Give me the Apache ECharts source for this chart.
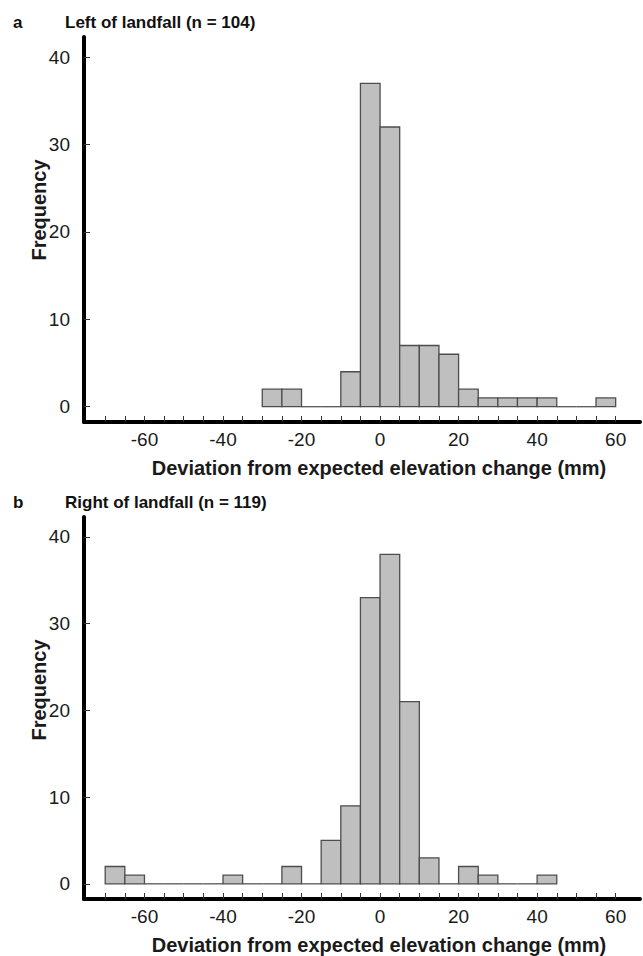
<!DOCTYPE html>
<html>
<head>
<meta charset="utf-8">
<script src="https://cdn.jsdelivr.net/npm/echarts@6/dist/echarts.min.js"></script>
<style>
html,body{margin:0;padding:0;background:#fff;}
#chart{width:643px;height:956px;}
</style>
</head>
<body>
<div id="chart"></div>
<script>
// Histogram bin edges (mm) and counts
var binEdgesA = [-30,-25,-20,-15,-10,-5,0,5,10,15,20,25,30,35,40,45,50,55,60];
var countsA   = [2,2,0,0,4,37,32,7,7,6,2,1,1,1,1,0,0,1];
var binEdgesB = [-70,-65,-60,-55,-50,-45,-40,-35,-30,-25,-20,-15,-10,-5,0,5,10,15,20,25,30,35,40,45];
var countsB   = [2,1,0,0,0,0,1,0,0,2,0,5,9,33,38,21,3,0,2,1,0,0,1];

var xTickValues  = [-70,-65,-60,-55,-50,-45,-40,-35,-30,-25,-20,-15,-10,-5,0,5,10,15,20,25,30,35,40,45,50,55,60];
var xLabelValues = [-60,-40,-20,0,20,40,60];
var yLabelValues = [0,10,20,30,40];

var titleA = 'Left of landfall (n = 104)';
var titleB = 'Right of landfall (n = 119)';
var xName = 'Deviation from expected elevation change (mm)';
var yName = 'Frequency';

function toData(edges, counts){
  var d = [];
  for (var i = 0; i < counts.length; i++) d.push([edges[i], edges[i+1], counts[i]]);
  return d;
}

function renderItem(params, api){
  var x0 = api.value(0), x1 = api.value(1), c = api.value(2);
  var p0 = api.coord([x0, c]);
  var p1 = api.coord([x1, 0]);
  if (c === 0) {
    return {type:'line', shape:{x1:p0[0], y1:p1[1], x2:p1[0], y2:p1[1]},
            style:{stroke:'#555555', lineWidth:1.3}};
  }
  return {type:'rect', shape:{x:p0[0], y:p0[1], width:p1[0]-p0[0], height:p1[1]-p0[1]},
          style:{fill:'#bfbfbf', stroke:'#4d4d4d', lineWidth:1.3}};
}

var FONT = 'Liberation Sans, Arial, sans-serif';

function xAxisDef(idx){
  return {
    type:'value', gridIndex:idx, min:-75.4, max:66.2,
    axisLine:{show:true, onZero:false, lineStyle:{color:'#000', width:4}},
    axisTick:{show:true, inside:true, length:6, customValues:xTickValues, lineStyle:{color:'#333', width:1}},
    axisLabel:{show:true, customValues:xLabelValues, margin:8, fontSize:19, color:'#1a1a1a', fontFamily:FONT},
    splitLine:{show:false},
    name:xName, nameLocation:'middle', nameGap:36,
    nameTextStyle:{fontSize:20, fontWeight:'bold', color:'#1a1a1a', fontFamily:FONT, padding:[0,0,0,34]}
  };
}
function yAxisDef(idx){
  return {
    type:'value', gridIndex:idx, min:-1.75, max:42.3,
    axisLine:{show:true, onZero:false, lineStyle:{color:'#000', width:4}},
    axisTick:{show:true, inside:true, length:6, customValues:yLabelValues, lineStyle:{color:'#333', width:1}},
    axisLabel:{show:true, customValues:yLabelValues, margin:14, fontSize:19, color:'#1a1a1a', fontFamily:FONT},
    splitLine:{show:false}
  };
}

var chart = echarts.init(document.getElementById('chart'), null, {renderer:'svg'});
chart.setOption({
  backgroundColor:'#fff',
  animation:false,
  title:[
    {text:'a', left:13, top:14, padding:0, textStyle:{fontSize:17, fontWeight:'bold', color:'#111', fontFamily:FONT}},
    {text:titleA, left:65, top:14, padding:0, textStyle:{fontSize:17, fontWeight:'bold', color:'#111', fontFamily:FONT}},
    {text:'b', left:13, top:494, padding:0, textStyle:{fontSize:17, fontWeight:'bold', color:'#111', fontFamily:FONT}},
    {text:titleB, left:65, top:494, padding:0, textStyle:{fontSize:17, fontWeight:'bold', color:'#111', fontFamily:FONT}}
  ],
  grid:[
    {left:84, top:37, width:556, height:385},
    {left:84, top:517, width:556, height:386}
  ],
  xAxis:[xAxisDef(0), xAxisDef(1)],
  yAxis:[yAxisDef(0), yAxisDef(1)],
  graphic:[
    {type:'text', x:39, y:210, rotation:Math.PI/2,
     style:{text:yName, fontSize:20, fontWeight:'bold', fill:'#1a1a1a', fontFamily:FONT, textAlign:'center', textVerticalAlign:'middle'}},
    {type:'text', x:39, y:690, rotation:Math.PI/2,
     style:{text:yName, fontSize:20, fontWeight:'bold', fill:'#1a1a1a', fontFamily:FONT, textAlign:'center', textVerticalAlign:'middle'}}
  ],
  series:[
    {type:'custom', xAxisIndex:0, yAxisIndex:0, renderItem:renderItem, encode:{x:[0,1], y:2}, data:toData(binEdgesA, countsA), clip:false, z:3},
    {type:'custom', xAxisIndex:1, yAxisIndex:1, renderItem:renderItem, encode:{x:[0,1], y:2}, data:toData(binEdgesB, countsB), clip:false, z:3}
  ]
});
</script>
</body>
</html>
